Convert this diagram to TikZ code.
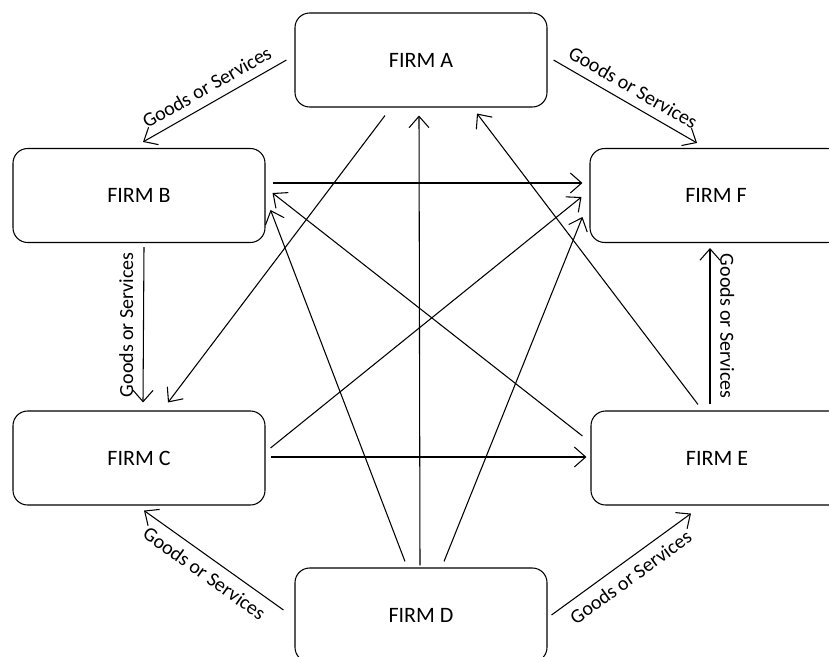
\documentclass[tikz,border=0pt]{standalone}
\usepackage{fontspec}
\setmainfont{Carlito}
\usepackage{tikz}
\usetikzlibrary{calc, arrows.meta}
\tikzstyle{firm}  = [draw, rounded corners=11pt, minimum width=189pt, minimum height=70.5pt, line width=0.8pt, font=\fontsize{16.5}{19}\selectfont]
\tikzstyle{arrow} = [line width=0.8pt, -{Straight Barb[length=8.5pt,width=15pt]}]

\begin{document}
\begin{tikzpicture}[
    x=0.75pt, y=-0.75pt,
    gslabel/.style={font=\fontsize{15}{17}\selectfont},
  ]
  \useasboundingbox (0,0) rectangle (829,657);
  \clip (0,0) rectangle (829,657);

  \node[firm] (a) at (421,60)    {FIRM A};
  \node[firm] (b) at (139,195.5) {FIRM B};
  \node[firm] (f) at (716,195.5) {FIRM F};
  \node[firm] (c) at (139,458)   {FIRM C};
  \node[firm] (e) at (717,458)   {FIRM E};
  \node[firm] (d) at (421,615)   {FIRM D};

  \draw[arrow] ($(a.west)+(-8,0)$) -- node[gslabel, sloped, above=3pt] {Goods or Services} ($(b.north)+(4,-6)$);
  \draw[arrow] ($(a.east)+(6,0)$) -- node[gslabel, sloped, above=3pt] {Goods or Services} ($(f.north)+(-19,-5)$);
  \draw[arrow] ($(b.south)+(5,4)$) -- node[gslabel, rotate=90, above=4pt] {Goods or Services} ($(c.north)+(4,-8)$);
  \draw[arrow] ($(e.north)+(-7,-6)$) -- node[gslabel, rotate=-90, above=4pt] {Goods or Services} ($(f.south)+(-6,5)$);
  \draw[arrow] ($(d.west)+(-11,-5)$) -- node[gslabel, sloped, below=3pt] {Goods or Services} ($(c.south)+(5,5)$);
  \draw[arrow] ($(d.east)+(4,0)$) -- node[gslabel, sloped, below=3pt] {Goods or Services} ($(e.south)+(-26,8)$);

  \draw[arrow] ($(a.south)+(-36,8)$) -- ($(c.north)+(29,-8)$);
  \draw[arrow] ($(d.north)+(-1,-2)$) -- ($(a.south)+(-2,8)$);
  \draw[arrow] ($(e.north)+(-19,-6)$) -- ($(a.south)+(56,6)$);
  \draw[arrow] ($(b.east)+(7,-12.5)$) -- ($(f.west)+(-7,-12.5)$);
  \draw[arrow] ($(c.east)+(5,-10)$) -- ($(f.west)+(-8,1.5)$);
  \draw[arrow] ($(d.north)+(23,-6)$) -- ($(f.west)+(-7,21.5)$);
  \draw[arrow] ($(c.east)+(5,-1)$) -- ($(e.west)+(-4,-1)$);
  \draw[arrow] ($(d.north)+(-16,-6)$) -- ($(b.east)+(5,14.5)$);
  \draw[arrow] ($(e.west)+(-8,-22)$) -- ($(b.east)+(7,-2.5)$);
\end{tikzpicture}
\end{document}
